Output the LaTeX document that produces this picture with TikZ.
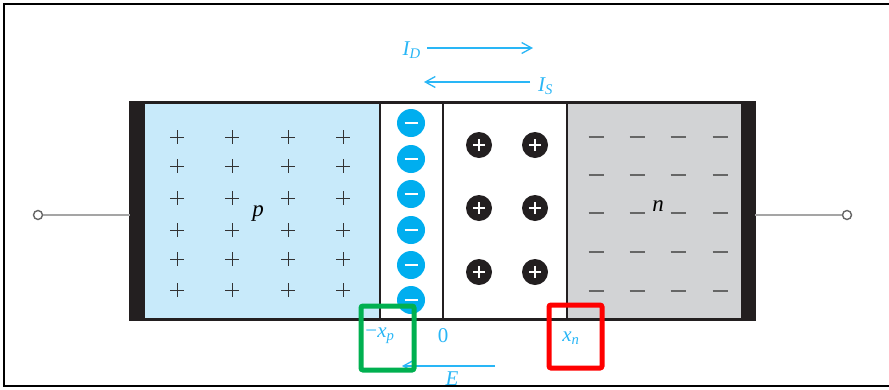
\documentclass[tikz,border=0pt]{standalone}
\usepackage{fontspec}
\setmainfont{Liberation Serif}
\usetikzlibrary{arrows.meta}
\definecolor{pfill}{RGB}{200,234,250}
\definecolor{nfill}{RGB}{210,211,213}
\definecolor{ioncyan}{RGB}{0,174,239}
\definecolor{labcyan}{RGB}{41,182,246}
\definecolor{bardark}{RGB}{35,31,32}
\definecolor{boxgreen}{RGB}{0,176,80}
\definecolor{wiregray}{RGB}{165,165,165}
\newcommand{\itsub}[2]{\textit{#1}\textsubscript{\textit{#2}}}
\begin{document}
\begin{tikzpicture}[x=1pt,y=-1pt,
  lab/.style={text=labcyan,inner sep=0pt,font=\fontsize{21}{23}\selectfont\itshape},
  reglab/.style={inner sep=0pt,font=\fontsize{23}{25}\selectfont\itshape},
  curarrow/.style={draw=labcyan,line width=1.5pt,-{Straight Barb[length=10pt,width=11pt,line width=1.3pt]}},
  negion/.style={circle,fill=ioncyan,minimum size=28pt,inner sep=0pt,
    path picture={\draw[white,line width=2.6pt] ([xshift=-6.5pt]path picture bounding box.center) -- ([xshift=6.5pt]path picture bounding box.center);}},
  posion/.style={circle,fill=bardark,minimum size=26pt,inner sep=0pt,
    path picture={\draw[white,line width=2.2pt] ([xshift=-6pt]path picture bounding box.center) -- ([xshift=6pt]path picture bounding box.center);
      \draw[white,line width=2.2pt] ([yshift=-6pt]path picture bounding box.center) -- ([yshift=6pt]path picture bounding box.center);}},
  terminal/.style={circle,draw=black!60,line width=1.4pt,fill=white,minimum size=9pt,inner sep=0pt},
  wire/.style={draw=wiregray,line width=2pt},
  markbox/.style={line width=5pt,rounded corners=2pt}
]
\useasboundingbox (0,0) rectangle (889,389);
% regions
\fill[pfill] (145,103) rectangle (380,319);
\fill[white] (380,103) rectangle (567,319);
\fill[nfill] (567,103) rectangle (741,319);
\fill[bardark] (130,102) rectangle (145,320);
\fill[bardark] (741,102) rectangle (755,320);
\draw[bardark,line width=2.6pt] (130,102.5) rectangle (755,319.5);
\foreach \xx in {380,443,567} \draw[bardark,line width=1.6pt] (\xx,103) -- (\xx,319);
% acceptor ions (plus signs)
\foreach \xx in {177,232,288,343}
  \foreach \yy in {137,166,198,230,259,290}
    \draw[black!80,line width=1pt] (\xx-7,\yy) -- (\xx+7,\yy) (\xx,\yy-7) -- (\xx,\yy+7);
% donor ions (dashes)
\foreach \xx in {596,637,678,720}
  \foreach \yy in {137,175,213,252,291}
    \draw[black!60,line width=1.7pt] (\xx-7.5,\yy) -- (\xx+7.5,\yy);
\node[reglab] (plab) at (258,214) {p};
\node[reglab] (nlab) at (658,206) {n};
% depletion ions
\foreach \yy [count=\i] in {123,159,194,230,265,300}
  \node[negion] (neg\i) at (411,\yy) {};
\foreach \yy [count=\i] in {145,208,272} {
  \node[posion] (posa\i) at (479,\yy) {};
  \node[posion] (posb\i) at (535,\yy) {};
}
% wires and terminals
\coordinate (bodyL) at (130,215);
\coordinate (bodyR) at (755,215);
\node[terminal] (tL) at (38,215) {};
\node[terminal] (tR) at (847,215) {};
\draw[wire] (tL) -- (bodyL);
\draw[wire] (bodyR) -- (tR);
% currents
\node[lab,anchor=east] (ID) at (421,50) {\itsub{I}{D}};
\coordinate (idS) at (427,48);
\coordinate (idE) at (533,48);
\draw[curarrow] (idS) -- (idE);
\node[lab,anchor=west] (IS) at (538,86) {\itsub{I}{S}};
\coordinate (isS) at (530,82);
\coordinate (isE) at (424,82);
\draw[curarrow] (isS) -- (isE);
% axis labels
\node[lab] (xp) at (380,336) {\textup{−}\itsub{x}{p}};
\node[lab,font=\fontsize{21}{23}\selectfont] (zero) at (443,336) {0};
\node[lab] (xn) at (571,338) {\itsub{x}{n}};
% field arrow
\coordinate (eS) at (495,366);
\coordinate (eE) at (402,366);
\draw[curarrow] (eS) -- (eE);
\node[lab,anchor=base] (E) at (452,385) {E};
% frame
\draw[black,line width=1.6pt] (889,4) -- (4,4) -- (4,386) -- (889,386);
% highlight boxes
\draw[markbox,draw=boxgreen] (361,306) rectangle (414,370);
\draw[markbox,draw=red] (549,305) rectangle (602,368);
\end{tikzpicture}
\end{document}
